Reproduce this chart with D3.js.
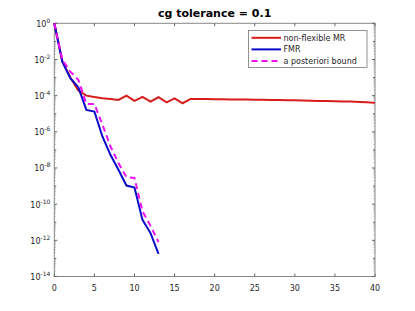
<!DOCTYPE html>
<html>
<head>
<meta charset="utf-8">
<script src="https://cdn.jsdelivr.net/npm/d3@7"></script>
<style>
  body { margin: 0; background: #fff; }
  svg { font-family: "DejaVu Sans", sans-serif; }
</style>
</head>
<body>
<div id="chart"></div>
<script>
// log10 of the residual at each iteration
const mrIters = d3.range(0, 41);
const mrLog = [0, -2.1, -3.0, -3.72, -4.0, -4.08, -4.14, -4.19, -4.24, -4.0,
  -4.29, -4.07, -4.33, -4.09, -4.37, -4.15, -4.42, -4.18, -4.18, -4.19,
  -4.2, -4.2, -4.21, -4.22, -4.22, -4.23, -4.23, -4.24, -4.24, -4.25,
  -4.26, -4.27, -4.28, -4.29, -4.3, -4.31, -4.32, -4.33, -4.35, -4.37, -4.4];
const fmrIters = d3.range(0, 14);
const fmrLog = [0, -2.12, -3.04, -3.54, -4.79, -4.88, -6.26, -7.27, -8.1, -8.97, -9.08, -10.87, -11.6, -12.75];
const boundIters = d3.range(0, 14);
const boundLog = [0, -2.0, -2.67, -3.13, -4.46, -4.46, -5.6, -6.8, -7.73, -8.5, -8.55, -10.4, -11.2, -12.1];

const xTicks = [0, 5, 10, 15, 20, 25, 30, 35, 40];
const yTickExps = [0, -2, -4, -6, -8, -10, -12, -14];
const seriesNames = ["non-flexible MR", "FMR", "a posteriori bound"];
const titleText = "cg tolerance = 0.1";

const W = 415, H = 311;
const margin = { left: 54.3, right: 40, top: 23.3, bottom: 34.5 };

const svg = d3.select("#chart").append("svg").attr("width", W).attr("height", H);

const x = d3.scaleLinear().domain([0, 40]).range([margin.left, W - margin.right]);
const y = d3.scaleLog().domain([1e-14, 1]).range([H - margin.bottom, margin.top]);

const axisCol = "#262626";

// box
svg.append("rect")
  .attr("x", x(0)).attr("y", y(1))
  .attr("width", x(40) - x(0)).attr("height", y(1e-14) - y(1))
  .attr("fill", "#fff").attr("stroke", "#888").attr("stroke-width", 1);

// x ticks top and bottom, inward
const xt = svg.append("g");
xTicks.forEach(t => {
  xt.append("line").attr("x1", x(t)).attr("x2", x(t)).attr("y1", y(1e-14)).attr("y2", y(1e-14) - 3)
    .attr("stroke", "#666");
  xt.append("line").attr("x1", x(t)).attr("x2", x(t)).attr("y1", y(1)).attr("y2", y(1) + 3)
    .attr("stroke", "#666");
  xt.append("text").attr("x", x(t)).attr("y", y(1e-14) + 14)
    .attr("text-anchor", "middle").attr("font-size", 8).attr("fill", axisCol).text(t);
});

// y ticks: decades + minor, both sides
const yt = svg.append("g");
for (let e = -14; e <= 0; e++) {
  const len = (e % 2 === 0) ? 3 : 2;
  yt.append("line").attr("x1", x(0)).attr("x2", x(0) + len).attr("y1", y(10 ** e)).attr("y2", y(10 ** e))
    .attr("stroke", "#666");
  yt.append("line").attr("x1", x(40)).attr("x2", x(40) - len).attr("y1", y(10 ** e)).attr("y2", y(10 ** e))
    .attr("stroke", "#666");
  if (e < 0) {
    for (let k = 2; k <= 9; k++) {
      const v = k * 10 ** (e);
      yt.append("line").attr("x1", x(0)).attr("x2", x(0) + 1.5).attr("y1", y(v)).attr("y2", y(v))
        .attr("stroke", "#999").attr("stroke-width", 0.7);
      yt.append("line").attr("x1", x(40)).attr("x2", x(40) - 1.5).attr("y1", y(v)).attr("y2", y(v))
        .attr("stroke", "#999").attr("stroke-width", 0.7);
    }
  }
}
yTickExps.forEach(e => {
  const t = yt.append("text").attr("x", x(0) - 4).attr("y", y(10 ** e) + 3.5)
    .attr("text-anchor", "end").attr("font-size", 8).attr("fill", axisCol);
  t.append("tspan").text("10");
  t.append("tspan").attr("dy", -4).attr("font-size", 6).text(e);
});

// lines
const line = d3.line().x(d => x(d[0])).y(d => y(10 ** d[1]));
svg.append("path").datum(mrIters.map((it, i) => [it, mrLog[i]]))
  .attr("d", line).attr("fill", "none").attr("stroke", "#d81b1b").attr("stroke-width", 2);
svg.append("path").datum(fmrIters.map((it, i) => [it, fmrLog[i]]))
  .attr("d", line).attr("fill", "none").attr("stroke", "#0a0acc").attr("stroke-width", 2);
svg.append("path").datum(boundIters.map((it, i) => [it, boundLog[i]]))
  .attr("d", line).attr("fill", "none").attr("stroke", "#ee11ee").attr("stroke-width", 2)
  .attr("stroke-dasharray", "6,4");

// title
svg.append("text").attr("x", (x(0) + x(40)) / 2).attr("y", 17)
  .attr("text-anchor", "middle").attr("font-size", 11).attr("font-weight", "bold")
  .attr("fill", "#000").text(titleText);

// legend
const lg = svg.append("g");
lg.append("rect").attr("x", 248.5).attr("y", 30.5).attr("width", 118.5).attr("height", 37)
  .attr("fill", "#fff").attr("stroke", "#777").attr("stroke-width", 0.8);
const legCols = ["#d81b1b", "#0a0acc", "#ee11ee"];
seriesNames.forEach((n, i) => {
  const yy = 37.8 + i * 11.6;
  lg.append("line").attr("x1", 251.5).attr("x2", 281).attr("y1", yy).attr("y2", yy)
    .attr("stroke", legCols[i]).attr("stroke-width", 2)
    .attr("stroke-dasharray", i === 2 ? "6,4" : null);
  lg.append("text").attr("x", 283.5).attr("y", yy + 3).attr("font-size", 8)
    .attr("fill", axisCol).text(n);
});
</script>
</body>
</html>
